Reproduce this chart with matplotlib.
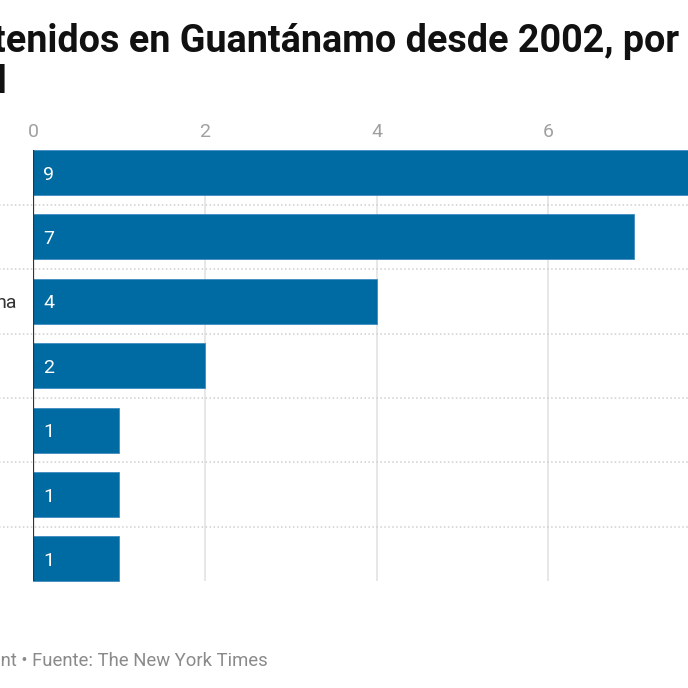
import matplotlib
matplotlib.use("Agg")
import matplotlib.pyplot as plt
import matplotlib.transforms as mtransforms

# ---------------- data ---------------- #
values = [9, 7, 4, 2, 1, 1, 1]
# only the tail of the third label is visible in the cropped chart
row_labels = ["", "", "na", "", "", "", ""]
ticks = [0, 2, 4, 6]
title_1 = "Detenidos en Guantánamo desde 2002, por"
title_2 = "nacionalidad"
footer = "Gráfico: Statement • Fuente: The New York Times"

# ---------------- style ---------------- #
W = H = 688
bar_color = "#006aa2"
font = "Roboto"

fig = plt.figure(figsize=(W / 100, H / 100), dpi=100)
fig.patch.set_facecolor("white")

def fx(px):
    return px / W

def fy(py):
    return 1 - py / H

# axes placement in pixels
x0_px = 33
px_per_unit = 85.9
row_step = 64.4
top_px = 172.5 - row_step / 2
bot_px = top_px + row_step * len(values)

ax = fig.add_axes([fx(x0_px), fy(bot_px), fx(W - x0_px), (bot_px - top_px) / H])
ax.set_xlim(0, (W - x0_px) / px_per_unit)
ax.set_ylim(len(values) - 0.5, -0.5)
ax.axis("off")

ypos = list(range(len(values)))
bar_h = 0.70

# vertical gridlines (behind bars)
for t in ticks[1:]:
    ax.vlines(t, -bar_h / 2, len(values) - 1 + bar_h / 2, color="#e3e3e3", lw=1.2, zorder=0)

# dotted row separators, reaching past the left edge of the axes
for i in range(len(values) - 1):
    ax.hlines(i + 0.5, -1, ax.get_xlim()[1], color="#cfcfcf", lw=1.1,
              linestyles=(0, (1, 1.6)), clip_on=False, zorder=0)

ax.barh(ypos, values, height=bar_h, color=bar_color, edgecolor="#3f8cc0",
        linewidth=0.6, zorder=2)

# baseline
ax.vlines(0, -bar_h / 2, len(values) - 1 + bar_h / 2, color="#333333", lw=1.6, zorder=3)

# values inside bars
for y, v in zip(ypos, values):
    ax.text(10 / px_per_unit, y, str(v), color="white", fontsize=14, family=font,
            va="center_baseline", ha="left", zorder=4)

# row labels (cropped on the left)
for y, lab in zip(ypos, row_labels):
    if lab:
        ax.text(-16 / px_per_unit, y, lab, color="#333333", fontsize=14, family=font,
                va="center_baseline", ha="right", clip_on=False)

# tick labels on top
trans = mtransforms.blended_transform_factory(ax.transData, fig.transFigure)
for t in ticks:
    ax.text(t, fy(137), str(t), transform=trans, color="#a0a0a0", fontsize=14,
            family=font, ha="center", va="baseline", clip_on=False)

# title (cropped chart, left part falls outside)
fig.text(fx(679), fy(52), title_1, fontsize=27.2, family=font, weight="bold",
         color="#111111", ha="right", va="baseline")
fig.text(fx(7), fy(93), title_2, fontsize=27.2, family=font, weight="bold",
         color="#111111", ha="right", va="baseline")

# footer
fig.text(fx(268), fy(666), footer, fontsize=13.3, family=font, color="#8a8a8a",
         ha="right", va="baseline")

fig.savefig("out.png", dpi=100, facecolor="white")
